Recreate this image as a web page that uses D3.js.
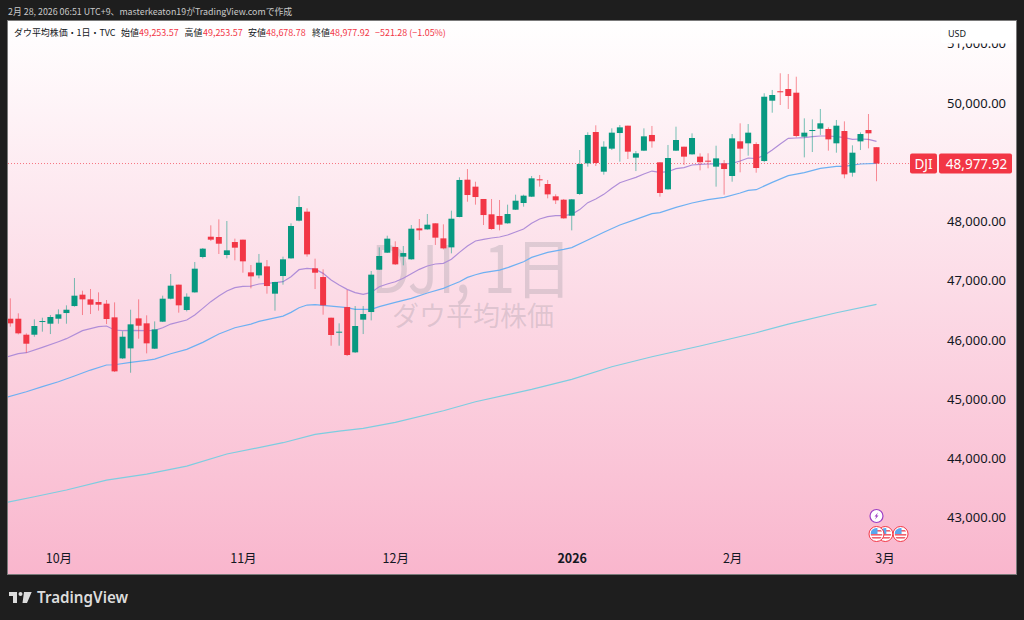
<!DOCTYPE html>
<html lang="ja">
<head>
<meta charset="utf-8">
<script src="https://cdn.jsdelivr.net/npm/d3@7"></script>
<style>
html,body{margin:0;padding:0;background:#1e1e1e;overflow:hidden}
svg{display:block}
text{font-family:"Noto Sans","Noto Sans CJK JP",sans-serif}
.jp{font-family:"Noto Sans CJK JP","Noto Sans",sans-serif}
</style>
</head>
<body>
<svg id="c" width="1024" height="620"></svg>
<script>
const opens=[46357,46357,46087,46087,46307,46273,46357,46453,46571,46763,46684,46639,46611,46380,45687,45856,46363,46279,45851,46307,46695,46932,46504,46802,47399,47742,47737,47433,47652,47692,47140,47089,47241,46780,47078,47376,48013,48165,47208,47061,46374,46127,46554,45789,46341,46470,47185,47472,47568,47405,47360,47883,47866,47968,47714,47562,48075,48705,48587,48379,48120,48092,47968,48198,48311,48418,48711,48632,48424,48367,48097,48463,48981,49510,48840,49229,49493,49617,49077,49195,49460,48998,48542,49195,49262,49133,49094,49026,48925,48981,48767,49353,49319,49307,49020,50039,50198,50236,50174,49431,49527,49566,49561,49319,49527,48823,49352,49544,49253.57];
const highs=[46701,46448,46110,46346,46374,46419,46515,46583,47044,46830,46859,46802,46673,46633,46144,46509,46684,46414,46312,46746,47112,46932,46785,47315,47551,47934,48035,48007,47709,47692,47264,47450,47348,46982,47405,47968,48429,48221,47371,47191,46374,46279,46842,46571,46571,47163,47562,47759,47664,47585,47939,48041,48125,47968,47951,48182,48745,48885,48671,48379,48379,48362,48283,48452,48452,48767,48784,48700,48457,48379,48379,49206,49505,49623,49353,49572,49628,49617,49189,49572,49612,48998,49291,49600,49262,49488,49150,49150,49279,49037,49476,49657,49645,49336,50164,50220,50502,50490,50444,49741,49724,49899,49589,49713,49690,49285,49504,49814,49253.57];
const lows=[46222,46093,45783,46053,46138,46098,46273,46273,46560,46419,46436,46493,46267,45457,45676,45445,46020,45772,45845,46301,46684,46459,46481,46797,47376,47669,47450,47376,47343,47134,46870,47039,46780,46493,46932,47371,48001,47405,46858,46425,45901,45901,45727,45778,46098,46329,47179,47467,47264,47258,47354,47686,47861,47602,47528,47461,48070,48333,48283,47939,47861,47849,47962,48193,48249,48412,48587,48390,48294,48046,47849,48446,48925,48936,48790,49206,49009,49054,48851,49189,49246,48418,48536,49189,48953,49127,48863,48897,48587,48452,48671,48829,49110,48823,49000,49836,49966,49899,49420,49082,49172,49460,49195,49161,48728,48756,49206,49234,48678.78];
const closes=[46279,46110,45935,46234,46318,46386,46431,46509,46746,46684,46594,46594,46352,45468,46053,46262,46239,45941,46177,46695,46915,46583,46729,47202,47540,47692,47624,47512,47557,47326,47072,47303,46909,46977,47360,47923,48243,47444,47134,46583,46082,46138,45744,46234,46436,47101,47416,47709,47275,47466,47877,47849,47945,47726,47545,48046,48700,48446,48412,48108,47872,47945,48125,48350,48435,48728,48700,48457,48356,48052,48373,48970,49460,48987,49262,49499,49589,49178,49150,49437,49353,48480,49071,49375,49094,49409,49000,49009,49065,48885,49403,49229,49499,48902,50106,50135,50181,50118,49443,49499,49544,49657,49386,49617,48795,49161,49476,49488,48977.92];

const ma25Index=[-1,1,2,4,6,7,9,11,12,13,14,15,17,18,19,20,22,23,24,25,26,27,28,29,30,31,32,33,34,35,36,37,38,39,40,41,42,43,44,45,46,47,48,49,50,51,52,53,54,55,56,57,58,59,60,61,62,63,64,65,66,67,68,69,70,71,72,73,74,75,76,77,78,79,80,81,82,83,84,85,86,87,88,89,90,91,92,93,94,95,96,97,98,99,100,101,102,103,104,105,106,107,108];
const ma25Values=[45690,45766,45783,45873,45969,46020,46155,46222,46234,46166,46155,46160,46155,46160,46205,46267,46335,46419,46532,46645,46740,46825,46881,46904,46909,46943,46954,46965,46982,47067,47185,47208,47196,47123,47010,46926,46853,46797,46768,46802,46898,46943,46982,47039,47117,47191,47247,47281,47292,47360,47478,47585,47669,47697,47720,47737,47771,47821,47872,47968,48041,48080,48097,48097,48120,48200,48317,48378,48457,48559,48654,48700,48744,48801,48851,48829,48840,48891,48908,48953,48964,48970,48975,48970,48981,49020,49071,49060,49116,49206,49307,49403,49409,49414,49431,49443,49443,49431,49414,49386,49392,49386,49352];

const ma75Index=[-1,2,4,6,8,10,12,13,15,17,18,20,22,24,26,28,30,31,34,35,36,37,38,39,40,42,43,44,45,46,48,50,52,54,55,56,57,58,59,61,62,64,65,67,69,70,72,74,76,78,80,81,83,85,87,89,91,92,93,95,97,99,101,103,104,106,108];
const ma75Values=[45010,45124,45209,45293,45389,45490,45575,45580,45620,45654,45676,45766,45839,45958,46098,46205,46267,46312,46402,46464,46543,46588,46594,46583,46571,46543,46515,46515,46515,46560,46633,46701,46791,46870,46926,46982,47055,47100,47134,47179,47219,47320,47393,47478,47528,47557,47686,47816,47939,48035,48131,48148,48238,48311,48367,48407,48480,48525,48536,48660,48773,48823,48897,48930,48930,48970,48981];

const ma200Index=[-1,3,7,12,17,22,27,34,38,41,44,48,54,58,65,70,75,80,86,93,97,103,108];
const ma200Values=[43240,43350,43464,43632,43734,43869,44072,44263,44404,44460,44506,44607,44803,44955,45164,45333,45546,45715,45896,46120,46267,46458,46600];

const priceTicks=[51000,50000,48000,47000,46000,45000,44000,43000];
const monthIndex=[6,29,48,70,90,109];
const monthLabels=["10月","11月","12月","2026","2月","3月"];
const legendParts=[["ダウ平均株価・1日・TVC",14,"#131722"],["始値",121,"#131722"],["49,253.57",139,"#f23645"],["高値",184.5,"#131722"],["49,253.57",203,"#f23645"],["安値",248,"#131722"],["48,678.78",266,"#f23645"],["終値",312,"#131722"],["48,977.92",330,"#f23645"],["−521.28 (−1.05%)",375,"#f23645"]];
const lastClose=closes[closes.length-1];
const flagIndex=[108,109.1,111];

const UP="#089981",DOWN="#f23645";
const svg=d3.select("#c");
const x=d3.scaleLinear().domain([0,108]).range([10.3,876.5]);
const y=d3.scaleLinear().domain([50000,43000]).range([103,517.5]);

const defs=svg.append("defs");
const g=defs.append("linearGradient").attr("id","bg").attr("x1",0).attr("x2",0).attr("y1",0).attr("y2",1);
g.append("stop").attr("offset","0%").attr("stop-color","#ffffff");
g.append("stop").attr("offset","100%").attr("stop-color","#f9b6cd");
defs.append("clipPath").attr("id","plot").append("rect").attr("x",8).attr("y",20).attr("width",1008).attr("height",554);

svg.append("rect").attr("x",7.5).attr("y",20.5).attr("width",1009).attr("height",554).attr("fill","url(#bg)").attr("stroke","#7a7a7a").attr("stroke-width",1);

svg.append("text").attr("class","jp").attr("x",8).attr("y",15).attr("font-size",8.85).attr("fill","#c9c9c9").text("2月 28, 2026 06:51 UTC+9、masterkeaton19がTradingView.comで作成");

// watermark
svg.append("text").attr("class","jp").attr("x",371).attr("y",293).attr("font-size",66).attr("textLength",201).attr("lengthAdjust","spacingAndGlyphs").attr("fill","#787b86").attr("fill-opacity",.22).text("DJI, 1日");
svg.append("text").attr("class","jp").attr("x",473).attr("y",326).attr("text-anchor","middle").attr("font-size",27).attr("fill","#787b86").attr("fill-opacity",.22).text("ダウ平均株価");

const plot=svg.append("g").attr("clip-path","url(#plot)");

// last price dotted line
plot.append("line").attr("x1",8).attr("x2",910).attr("y1",y(lastClose)).attr("y2",y(lastClose)).attr("stroke",DOWN).attr("stroke-opacity",.65).attr("stroke-dasharray","1 2");

// moving averages
const line=d3.line().x(d=>x(d[0])).y(d=>y(d[1]));
[[ma200Index,ma200Values,"#7dcde0"],[ma75Index,ma75Values,"#6eb0f2"],[ma25Index,ma25Values,"#b08ed8"]].forEach(([ix,vals,col])=>{
  plot.append("path").datum(d3.zip(ix,vals)).attr("d",line).attr("fill","none").attr("stroke",col).attr("stroke-width",1.2);
});

// candles
const candles=d3.range(opens.length).map(i=>({i,o:opens[i],h:highs[i],l:lows[i],c:closes[i]}));
const cg=plot.selectAll("g.candle").data(candles).join("g").attr("class","candle");
const colr=d=>d.c>=d.o?UP:DOWN;
cg.append("line").attr("x1",d=>x(d.i)).attr("x2",d=>x(d.i)).attr("y1",d=>y(d.h)).attr("y2",d=>y(d.l)).attr("stroke",colr).attr("stroke-opacity",.55).attr("stroke-width",1);
cg.append("rect").attr("x",d=>x(d.i)-3).attr("width",6)
  .attr("y",d=>y(Math.max(d.o,d.c))).attr("height",d=>Math.max(1,Math.abs(y(d.o)-y(d.c)))).attr("fill",colr);

// price axis
const yAxis=d3.axisRight(y).tickValues(priceTicks).tickSize(0).tickFormat(d3.format(",.2f"));
const ya=svg.append("g").attr("transform","translate(947,0)").call(yAxis);
ya.select(".domain").remove();
ya.selectAll("text").attr("x",0).attr("font-size",13).attr("fill","#131722").attr("font-family",null).attr("text-anchor","start");

// month axis
const xAxis=d3.axisBottom(x).tickValues(monthIndex).tickSize(0).tickFormat((d,i)=>monthLabels[i]);
const xa=svg.append("g").attr("transform","translate(0,549)").call(xAxis);
xa.select(".domain").remove();
xa.selectAll("text").attr("class","jp").attr("y",5).attr("font-size",12.5).attr("fill","#131722").attr("font-family",null)
  .attr("font-weight",(d,i)=>monthLabels[i]==="2026"?700:400);

// legend
svg.append("g").selectAll("text").data(legendParts).join("text").attr("class","jp")
  .attr("x",d=>d[1]).attr("y",35.5).attr("font-size",8.95).attr("fill",d=>d[2]).text(d=>d[0]);

// USD box
svg.append("rect").attr("x",941).attr("y",23.5).attr("width",72).attr("height",20).attr("rx",3).attr("fill","#ffffff");
svg.append("text").attr("x",948).attr("y",36.5).attr("font-size",9).attr("fill","#131722").text("USD");

// last price tag
const tagY=y(lastClose);
svg.append("rect").attr("x",910).attr("y",tagY-10).attr("width",27).attr("height",20).attr("rx",2).attr("fill",DOWN);
svg.append("rect").attr("x",939).attr("y",tagY-10).attr("width",73).attr("height",20).attr("rx",2).attr("fill",DOWN);
svg.append("text").attr("x",923.5).attr("y",tagY+5).attr("text-anchor","middle").attr("font-size",13.5).attr("fill","#fff").text("DJI");
svg.append("text").attr("x",976.5).attr("y",tagY+5).attr("text-anchor","middle").attr("font-size",13.5).attr("fill","#fff").text(d3.format(",.2f")(lastClose));

// event markers
const ev=svg.append("g");
ev.append("circle").attr("cx",x(108)).attr("cy",516).attr("r",6.5).attr("fill","#fff").attr("stroke","#9c3fc4").attr("stroke-width",1.2);
ev.append("path").attr("transform",`translate(${x(108)},516)`).attr("d","M1.5,-3.5 L-2,0.6 L-0.2,0.6 L-1.5,3.5 L2,-0.6 L0.2,-0.6 Z").attr("fill","#9c3fc4");
defs.append("clipPath").attr("id","fc").append("circle").attr("r",6);
flagIndex.slice().reverse().forEach(ix=>{
  const f=ev.append("g").attr("transform",`translate(${x(ix)},534)`);
  f.append("circle").attr("r",7.5).attr("fill","#fff").attr("stroke","#f23645").attr("stroke-width",1);
  const inner=f.append("g").attr("clip-path","url(#fc)");
  inner.append("rect").attr("x",-6).attr("y",-6).attr("width",12).attr("height",12).attr("fill","#fff");
  [-3,1,4].forEach(v=>inner.append("rect").attr("x",-6).attr("y",v-1).attr("width",12).attr("height",1.6).attr("fill","#f0626f"));
  inner.append("rect").attr("x",-6).attr("y",-6).attr("width",7).attr("height",6).attr("fill","#5aa7ee");
});

// brand
const logo=svg.append("g").attr("fill","#dcdcdc");
logo.append("path").attr("d","M9,592 H17 V603 H13 V596 H9 Z M24,592 H31.7 L27,603 H22.5 Z");
logo.append("circle").attr("cx",20.5).attr("cy",594).attr("r",2);
svg.append("text").attr("x",37).attr("y",603).attr("font-size",15.2).attr("font-weight",600).attr("fill","#dcdcdc").text("TradingView");
</script>
</body>
</html>
